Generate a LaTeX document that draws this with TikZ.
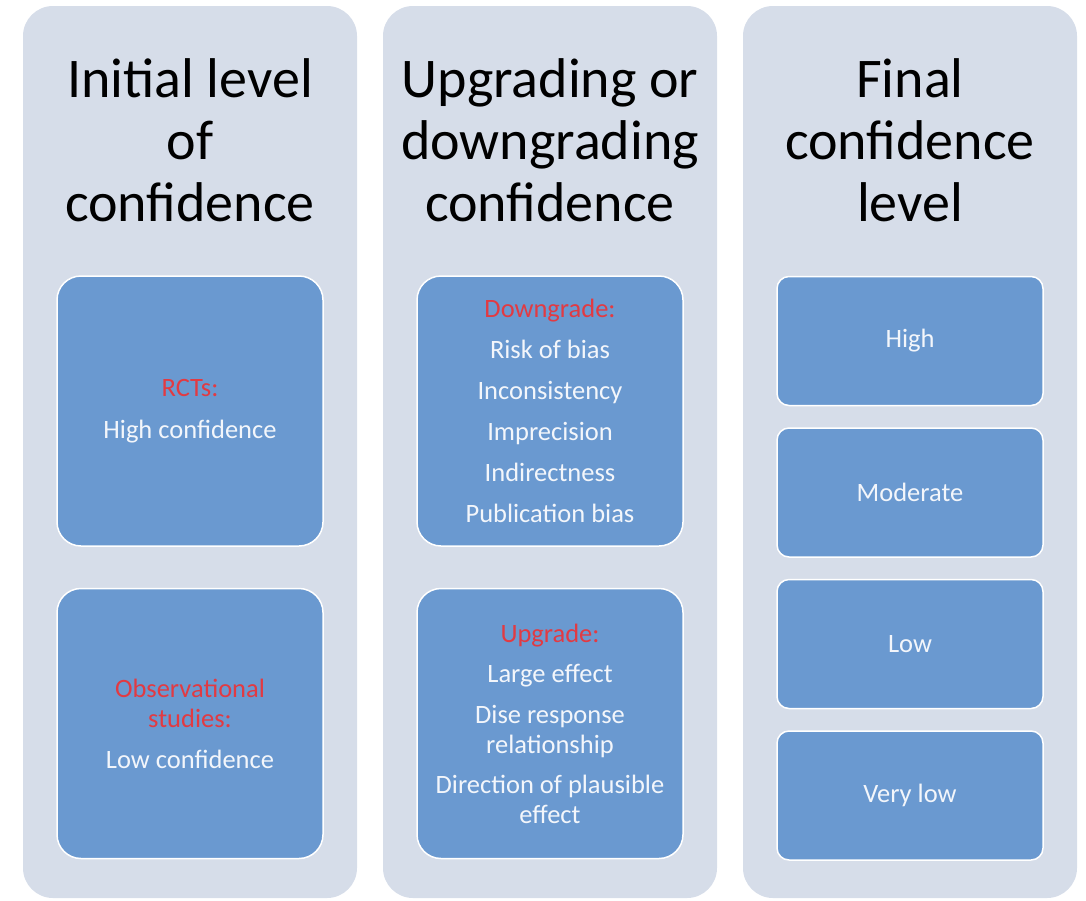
\documentclass[tikz,border=0pt]{standalone}
\usepackage{fontspec}
\setmainfont{Carlito}
\usetikzlibrary{positioning}

\definecolor{panelgray}{RGB}{214,221,233}
\definecolor{boxblue}{RGB}{106,153,208}
\definecolor{labelred}{RGB}{226,58,66}
\definecolor{boxtext}{RGB}{243,246,251}

\tikzset{
  panel/.style={fill=panelgray, rounded corners=30pt, minimum width=334pt,
    minimum height=892pt, inner sep=0pt},
  heading/.style={align=center, text=black, font=\fontsize{56}{62}\selectfont},
  stepbox/.style={fill=boxblue, draw=white, line width=1.5pt, rounded corners=24pt,
    minimum width=266pt, minimum height=270pt, inner sep=0pt, align=center,
    text=boxtext, font=\fontsize{26.5}{30}\selectfont},
  levelbox/.style={stepbox, rounded corners=12pt, minimum height=129pt},
}
\newcommand{\redhead}[1]{\textcolor{labelred}{#1}}

\begin{document}
\begin{tikzpicture}[x=1pt,y=-1pt]
  \useasboundingbox (0,0) rectangle (1086,900);

  % the three columns
  \node[panel] (initial) at (190,452) {};
  \node[panel] (grading) at (550,452) {};
  \node[panel] (final)   at (910,452) {};

  \node[heading] (initialtitle) at (190,140) {Initial level\\of\\confidence};
  \node[heading] (gradingtitle) at (550,140) {Upgrading or\\downgrading\\confidence};
  \node[heading] (finaltitle)   at (910,140) {Final\\confidence\\level};

  % starting level
  \node[stepbox] (rcts) at (190,411) {\redhead{RCTs:}\\[12pt]High confidence};
  \node[stepbox] (obs)  at (190,723.5)
    {\redhead{Observational}\\\redhead{studies:}\\[11pt]Low confidence};

  % reasons to move
  \node[stepbox] (down) at (550,411)
    {\redhead{Downgrade:}\\[11pt]Risk of bias\\[11pt]Inconsistency\\[11pt]Imprecision\\[11pt]Indirectness\\[11pt]Publication bias};
  \node[stepbox] (up) at (550,723.5)
    {\redhead{Upgrade:}\\[10pt]Large effect\\[11pt]Dise response\\relationship\\[10pt]Direction of plausible\\effect};

  % result
  \node[levelbox] (high) at (910,341) {High};
  \node[levelbox, below=21pt of high] (moderate) {Moderate};
  \node[levelbox, below=21pt of moderate] (low) {Low};
  \node[levelbox, below=21pt of low] (verylow) {Very low};
\end{tikzpicture}
\end{document}
